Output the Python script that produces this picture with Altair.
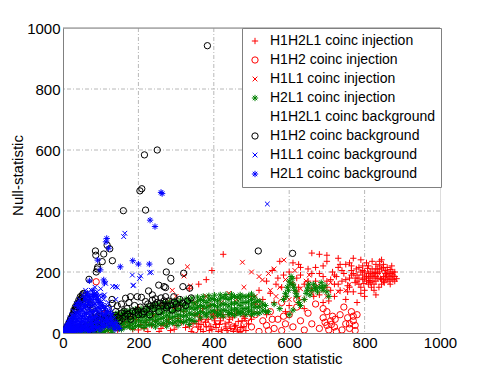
import altair as alt
import pandas as pd

series_names = [
    "H1H2L1 coinc injection", "H1H2 coinc injection", "H1L1 coinc injection",
    "H2L1 coinc injection", "H1H2L1 coinc background", "H1H2 coinc background",
    "H1L1 coinc background", "H2L1 coinc background",
]
series_colors = ["#ff0000", "#ff0000", "#ff0000", "#008000", "#ffffff", "#000000", "#0000ff", "#0000ff"]
PLUS = "M-1,0L1,0M0,-1L0,1"
CROSS = "M-0.75,-0.75L0.75,0.75M-0.75,0.75L0.75,-0.75"
STAR = "M-1,0L1,0M0,-1L0,1M-0.7,-0.7L0.7,0.7M-0.7,0.7L0.7,-0.7"
series_shapes = [PLUS, "circle", CROSS, STAR, "M0,0", "circle", CROSS, STAR]

x_ticks = [0, 200, 400, 600, 800, 1000]
y_ticks = [0, 200, 400, 600, 800, 1000]
grid_vals = [200, 400, 600, 800]

inj_h1h2l1 = [
    (700,150),(710,175),(715,200),(720,160),(725,185),(730,215),(735,140),(740,170),(745,195),(750,225),
    (755,155),(760,180),(765,205),(770,135),(775,165),(780,190),(785,215),(790,150),(795,175),(800,200),
    (805,230),(810,160),(815,185),(820,210),(825,140),(830,170),(835,195),(840,220),(845,160),(850,185),
    (855,205),(860,175),(865,195),(870,180),(875,190),(880,170),(845,240),(820,235),(790,240),(760,230),
    (730,245),(700,255),(680,258),(660,262),(720,120),(750,110),(780,100),(800,120),(830,125),(770,245),
    (812,172),(828,198),(842,178),(858,190),(868,208),(838,150),(818,150),(798,162),(778,210),(808,212),
    (785,160),(795,190),(805,170),(815,200),(825,180),(835,210),(845,175),(855,195),(865,185),(875,200),
    (880,185),(860,215),(850,225),(840,235),(830,225),(820,190),(810,180),(800,140),(790,130),(780,170),
    (770,195),(760,150),(750,175),(740,205),(730,160),(720,190),(710,140),(700,170),(690,220),(680,195),
    (670,170),(660,195),(650,210),(640,160),(630,215),(620,180),(610,230),(700,235),(735,225),(765,220),
    (795,220),(825,160),(852,165),(868,160),(872,220),(885,178),(755,135),(705,105),(665,120),(625,150),
    (585,190),(565,160),
    (790,200),(800,180),(810,195),(820,170),(830,185),(840,200),(850,170),(860,200),(870,195),(880,200),
    (855,180),(845,210),(835,180),(825,195),(815,165),(805,185),(795,205),(785,180),(775,180),(765,190),
    (810,220),(830,210),(850,215),(865,170),(875,175),
    (500,120),(510,95),(520,140),(530,110),(540,170),(550,130),(560,100),(570,180),(580,150),(590,120),
    (600,200),(610,160),(620,135),(630,190),(640,110),(650,170),(660,145),(670,215),(680,125),(690,185),
    (555,205),(600,90),(640,80),(690,100),(575,235),(625,225),(540,60),(590,70),
    (425,258),(395,205),(335,145),(360,160),(380,175),
    (60,5),(80,15),(100,30),(120,10),(140,40),(160,20),(180,50),(200,10),(220,35),(240,60),
    (260,15),(280,45),(300,25),(320,70),(340,5),(360,40),(380,20),(400,55),(420,10),(440,35),
    (460,65),(480,20),(500,45),(350,60),(370,80),(390,90),(410,75),(430,30),(450,50),(470,5),
    (300,80),(260,90),(200,80),(150,60),(110,70),(395,12),(415,28),(435,8),(455,22),(475,40),
    (105,3),(125,22),(145,8),(165,35),(185,12),(205,28),(225,5),(245,40),(265,25),(285,8),
    (305,48),(325,18),(345,32),(365,12),(385,45),(405,28),(425,50),(445,15),(465,38),(485,8),
    (362,55),(378,35),(398,62),(418,40),(438,60),(458,25),(478,55),(492,30),(372,5),(392,22),
    (412,5),(432,20),(452,5),(472,18),(155,45),(175,25),(195,45),(215,15),(235,25),(255,5),
    (275,30),(295,12),(315,35),(335,22),(355,30),
    (360,20),(368,45),(388,8),(402,40),(422,60),(442,45),(462,10),(482,48),(366,28),(406,18),
]
inj_h1h2 = [
    (470,10),(480,30),(490,50),(500,20),(510,60),(520,5),(530,40),(540,25),(550,70),(560,15),
    (570,45),(580,8),(590,30),(600,60),(610,20),(620,85),(630,40),(640,10),(650,65),(660,30),
    (670,95),(680,15),(690,50),(700,25),(705,10),(710,40),(715,55),(720,20),(725,5),(700,70),
    (690,80),(750,30),(755,50),(760,15),(765,70),(770,40),(775,25),(780,60),(745,85),(740,10),
    (620,110),(580,100),(450,20),(430,5),(410,40),(380,30),(350,10),(400,65),(88,168),
    (695,35),(712,28),(722,45),(735,60),(760,30),(770,55),(775,8),(545,8),(555,45),(585,55),
]
inj_h1l1 = [
    (476,232),(586,239),(529,174),(653,190),(321,187),(338,154),(500,200),(520,185),(545,195),(560,210),
    (575,150),(590,175),(605,160),(615,205),(630,145),(645,170),(660,130),(675,155),(690,140),(700,120),
    (550,140),(510,120),(480,150),(460,110),(440,130),(420,100),(300,120),(310,90),(280,105),(290,140),
    (565,120),(625,115),(710,165),(730,135),(750,140),(760,160),(520,90),(600,110),(380,120),(350,100),
    (330,217),
]
inj_h2l1 = [
    (20,3),(20,8),(35,5),(35,12),(35,18),(50,4),(50,15),(50,25),(65,6),(65,18),(65,30),
    (80,3),(80,14),(80,28),(80,38),(95,8),(95,20),(95,35),(95,45),(110,5),(110,18),(110,30),(110,48),
    (125,10),(125,25),(125,40),(125,55),(140,20),(140,35),(140,50),(140,62),
    (155,12),(155,28),(155,45),(155,60),(170,22),(170,38),(170,55),(170,68),
    (185,15),(185,30),(185,48),(185,65),(200,25),(200,42),(200,58),(200,72),
    (215,18),(215,35),(215,52),(215,70),(230,28),(230,45),(230,62),(230,80),
    (245,20),(245,38),(245,55),(245,75),(245,88),(260,30),(260,48),(260,65),(260,82),
    (275,22),(275,40),(275,58),(275,78),(275,95),(290,32),(290,50),(290,70),(290,88),
    (305,25),(305,42),(305,60),(305,80),(305,98),(320,35),(320,55),(320,72),(320,90),
    (335,28),(335,45),(335,65),(335,85),(335,105),(350,38),(350,58),(350,78),(350,95),
    (365,50),(365,70),(365,90),(365,110),(380,55),(380,62),(380,82),(380,100),
    (395,52),(395,72),(395,92),(395,112),(410,58),(410,65),(410,85),(410,105),
    (425,55),(425,75),(425,95),(425,118),(440,60),(440,68),(440,88),(440,110),
    (455,58),(455,78),(455,98),(455,120),(470,62),(470,70),(470,90),(470,112),(470,125),
    (485,60),(485,80),(485,100),(485,118),(500,60),(500,72),(500,92),(500,110),(500,128),
    (515,65),(515,85),(515,105),(530,75),(530,95),
    (27,2),(27,6),(27,10),(42,3),(42,9),(42,16),(42,22),(57,5),(57,12),(57,20),(57,28),
    (72,4),(72,11),(72,22),(72,32),(87,7),(87,16),(87,26),(87,36),(87,42),
    (102,6),(102,14),(102,24),(102,38),(102,50),(117,9),(117,20),(117,33),(117,45),(117,58),
    (132,12),(132,22),(132,30),(132,44),(132,52),(132,60),(147,15),(147,26),(147,40),(147,55),(147,66),
    (162,18),(162,33),(162,50),(162,64),(162,72),(177,20),(177,30),(177,44),(177,60),(177,74),
    (192,22),(192,36),(192,52),(192,68),(192,78),(207,24),(207,40),(207,56),(207,66),(207,80),
    (222,26),(222,42),(222,58),(222,74),(222,86),(237,28),(237,46),(237,64),(237,82),(237,92),
    (252,30),(252,44),(252,60),(252,78),(252,96),(267,32),(267,50),(267,68),(267,86),(267,100),
    (282,34),(282,52),(282,66),(282,84),(282,102),(297,36),(297,54),(297,72),(297,92),(297,106),
    (312,38),(312,56),(312,76),(312,96),(312,108),(327,40),(327,58),(327,78),(327,98),(327,112),
    (342,42),(342,62),(342,82),(342,100),(342,115),(357,64),(357,84),(357,104),(357,118),
    (372,66),(372,86),(372,106),(372,120),(387,68),(387,88),(387,108),(387,122),
    (402,70),(402,90),(402,110),(402,124),(417,60),(417,72),(417,92),(417,112),(417,125),
    (432,74),(432,94),(432,114),(432,126),(447,64),(447,76),(447,96),(447,116),(447,127),
    (462,66),(462,78),(462,98),(462,118),(477,68),(477,80),(477,100),(477,120),
    (492,70),(492,82),(492,102),(492,122),(507,64),(507,84),(507,100),(507,118),(522,66),(522,86),(522,104),
    (537,70),(537,90),
    (100,1),(130,1),(40,1),(60,1),(80,1),
    (585,110),(590,130),(595,150),(600,170),(605,185),(610,160),(615,140),(620,120),(625,100),
    (640,110),(645,130),(650,150),(655,125),(660,140),(665,160),(670,145),(675,135),(680,150),
    (685,165),(690,140),(695,155),(700,135),(705,120),(575,80),(560,95),(545,70),(630,90),(610,75),(600,60),
    (592,120),(598,140),(602,160),(608,178),(612,150),(618,130),(648,140),(652,160),(668,150),(688,150),
]
bg_h1h2l1 = []
bg_h1h2 = [
    (383,942),(216,584),(250,600),(204,466),(209,473),(160,401),(219,403),(86,269),(87,255),(108,259),
    (124,276),(117,288),(131,237),(104,234),(92,216),(91,210),(88,200),(69,176),(286,236),(274,200),
    (286,179),(320,196),(254,157),(268,152),(272,149),(518,269),(609,261),(318,152),(336,147),(227,138),
    (237,125),(197,119),(208,117),(272,119),(294,119),(166,114),(179,119),(131,97),(144,89),(277,89),
    (219,103),(237,108),(46,119),(51,124),(42,108),(38,97),(33,86),(29,75),
    (5,8),(10,18),(15,30),(20,45),(25,58),(30,70),(35,80),(40,92),(45,105),(48,112),(55,130),(60,100),
    (65,85),(70,60),(75,45),(80,35),(85,25),(95,40),(100,55),(105,30),(115,45),(120,60),(125,35),(135,50),
    (140,70),(150,40),(155,65),(165,55),(170,80),(180,45),(185,70),(190,90),(200,60),(205,85),(215,70),
    (225,95),(230,60),(240,80),(250,100),(255,70),(265,90),(280,105),(290,75),(300,95),(310,110),(325,90),
    (260,115),(245,112),(155,95),(175,100),(120,80),(130,110),(110,65),(90,50),(60,20),(50,15),(40,30),
    (30,15),(70,10),(80,5),
    (8,14),(12,24),(18,38),(22,50),(27,62),(32,74),(37,86),(43,100),(50,115),(53,128),(57,120),(62,112),
    (67,100),(72,92),(78,80),(84,70),(88,62),(94,55),(100,45),(108,40),(112,52),(118,48),(128,48),(138,58),
    (146,50),(158,48),(162,72),(172,62),(178,55),(192,68),(198,75),(210,62),(222,78),(232,88),(244,92),
    (258,98),(268,105),(274,82),(286,92),(296,102),(305,82),(318,98),(330,105),(340,115),
]
bg_h1l1 = [
    (542,423),(184,190),(206,187),(234,199),(139,152),(132,153),(144,150),(186,155),(161,316),(164,327),
    (113,163),(203,179),(187,157),(230,198),
    (5,3),(8,12),(12,6),(15,25),(18,10),(20,40),(22,18),(25,55),(28,30),(30,8),(32,70),(35,45),(38,20),
    (40,85),(42,60),(45,35),(48,100),(50,75),(52,50),(55,20),(58,110),(60,88),(62,65),(65,40),(68,120),
    (70,95),(72,72),(75,50),(78,30),(80,105),(85,80),(88,60),(90,135),(92,40),(95,110),(100,90),(105,70),
    (110,125),(115,50),(120,100),(125,80),(130,60),(100,145),(85,150),(75,140),(140,110),(60,140),(120,40),
    (10,22),(14,35),(18,48),(24,60),(28,72),(36,95),(44,110),(52,125),(64,132),(82,128),(96,122),(108,110),
    (118,90),(128,70),(136,50),(12,3),(26,8),(44,12),(62,14),(82,20),(102,25),(50,90),(58,70),(66,52),(74,35),
]
bg_h2l1 = [
    (260,461),(263,457),(231,370),(244,349),(116,310),(114,299),(121,278),(99,207),(108,174),(110,164),
    (92,239),(70,171),(152,217),(185,237),(200,226),(229,226),(81,119),(94,108),(108,86),(59,119),
    (106,121),(83,128),
    (2,2),(4,8),(6,4),(8,15),(10,6),(12,25),(14,12),(16,3),(18,35),(20,20),(22,8),(24,45),(26,28),(28,14),
    (30,5),(32,55),(34,38),(36,22),(38,10),(40,65),(42,48),(44,30),(46,15),(48,5),(50,75),(52,55),(54,38),
    (56,22),(58,10),(60,85),(62,65),(64,45),(66,28),(68,14),(70,5),(72,90),(74,70),(76,50),(78,32),(80,18),
    (82,8),(85,95),(88,75),(90,55),(92,38),(95,22),(98,10),(100,80),(105,60),(108,40),(110,25),(115,65),
    (118,45),(120,30),(125,50),(130,35),(135,20),(60,110),(70,120),(80,140),(90,125),(100,100),(50,95),(45,80),
    (3,5),(5,12),(7,2),(9,20),(11,9),(13,30),(15,18),(17,6),(19,40),(21,28),(23,14),(25,4),(27,50),(29,35),
    (31,20),(33,9),(35,62),(37,45),(39,30),(41,16),(43,6),(45,70),(47,55),(49,40),(51,25),(53,12),(55,85),
    (57,62),(59,48),(61,32),(63,20),(65,8),(67,100),(69,78),(71,60),(73,40),(75,25),(77,12),(79,92),(81,70),
    (83,50),(86,35),(89,18),(93,85),(96,68),(99,48),(102,32),(106,18),(112,55),(116,38),(122,20),(128,42),
    (132,28),(138,12),(65,130),(75,110),(85,120),(95,100),(105,90),(58,95),(68,108),(78,125),(88,110),
    (112,80),(118,70),(126,62),(140,35),(145,25),(150,15),(40,100),(35,90),
]

all_series = [inj_h1h2l1, inj_h1h2, inj_h1l1, inj_h2l1, bg_h1h2l1, bg_h1h2, bg_h1l1, bg_h2l1]
rows = []
for name, pts in zip(series_names, all_series):
    for (xv, yv) in pts:
        rows.append({"series": name, "x": xv, "y": yv})
df = pd.DataFrame(rows)
df["idx"] = range(len(df))

FONT = "Liberation Sans"
xscale = alt.Scale(domain=[0, 1000], nice=False, zero=False)
yscale = alt.Scale(domain=[0, 1000], nice=False, zero=False)

grid_df = pd.DataFrame({"v": grid_vals})
vgrid = alt.Chart(grid_df).mark_rule(color="#b8b8b8", strokeDash=[4, 2, 1, 2], strokeWidth=1).encode(
    x=alt.X("v:Q", scale=xscale))
hgrid = alt.Chart(grid_df).mark_rule(color="#b8b8b8", strokeDash=[4, 2, 1, 2], strokeWidth=1).encode(
    y=alt.Y("v:Q", scale=yscale))
top_df = pd.DataFrame({"v": [1000]})
top_line = alt.Chart(top_df).mark_rule(color="#808080", strokeWidth=1).encode(
    y=alt.Y("v:Q", scale=yscale))

points = alt.Chart(df).mark_point(filled=False, size=40, strokeWidth=1, opacity=1, clip=True).encode(
    x=alt.X("x:Q", scale=xscale, title="Coherent detection statistic",
            axis=alt.Axis(values=x_ticks, format="d", grid=False, ticks=False, labelFontSize=15,
                          titleFontSize=15, labelFont=FONT, titleFont=FONT, titleFontWeight="normal",
                          labelColor="black", titleColor="black", domainColor="#808080",
                          labelPadding=2, titleBaseline="alphabetic", titleY=30, labelFlush=False)),
    y=alt.Y("y:Q", scale=yscale, title="Null-statistic",
            axis=alt.Axis(values=y_ticks, format="d", grid=False, ticks=False, labelFontSize=15,
                          titleFontSize=15, labelFont=FONT, titleFont=FONT, titleFontWeight="normal",
                          labelColor="black", titleColor="black", domainColor="#808080",
                          labelPadding=3, titleBaseline="alphabetic", titleX=-41, titleY=147,
                          labelFlush=False)),
    color=alt.Color("series:N", scale=alt.Scale(domain=series_names, range=series_colors),
                    sort=series_names, title=None,
                    legend=alt.Legend(orient="none", legendX=179, legendY=0, fillColor="white",
                                      strokeColor="#808080", padding=6, labelFont=FONT,
                                      labelFontSize=14, labelColor="black", rowPadding=5,
                                      labelOffset=8, symbolSize=40, symbolStrokeWidth=1,
                                      symbolOpacity=1, labelLimit=0)),
    shape=alt.Shape("series:N", scale=alt.Scale(domain=series_names, range=series_shapes),
                    sort=series_names, title=None),
    order=alt.Order("idx:Q"),
)

chart = alt.layer(vgrid, hgrid, top_line, points).properties(
    width=377, height=305,
    autosize=alt.AutoSizeParams(type="none"),
    padding={"left": 55, "top": 20, "right": 37, "bottom": 34},
).configure_view(stroke=None).configure(background="white")

chart.save("out.html", embed_options={"renderer": "svg", "actions": False})
